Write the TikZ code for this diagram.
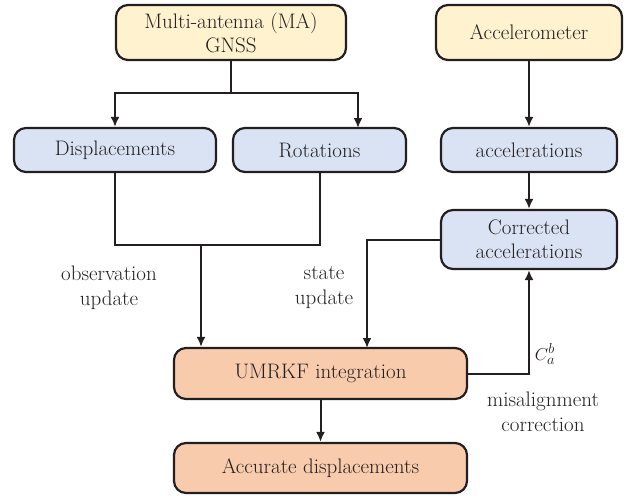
\documentclass[tikz,border=0pt]{standalone}
\usepackage{amsmath}
\usetikzlibrary{arrows.meta}
\definecolor{ink}{HTML}{231F20}
\definecolor{yel}{HTML}{FEF3CE}
\definecolor{blu}{HTML}{DAE3F3}
\definecolor{ora}{HTML}{F9CBAD}
\begin{document}
\begin{tikzpicture}[x=1pt,y=-1pt,
  box/.style={draw=ink,line width=2.2pt,rounded corners=12pt,align=center,
    inner sep=0pt,text=ink,font=\fontsize{21}{24}\selectfont},
  ybox/.style={box,fill=yel},
  bbox/.style={box,fill=blu},
  obox/.style={box,fill=ora},
  conn/.style={draw=ink,line width=2pt},
  arr/.style={conn,-{Latex[length=10pt,width=9pt]}},
  lab/.style={align=center,text=ink,inner sep=0pt,font=\fontsize{21}{25}\selectfont}]
\useasboundingbox (0,0) rectangle (633,496);
% boxes
\node[ybox,minimum width=230pt,minimum height=55pt] (gnss) at (231,32.5) {Multi-antenna (MA)\\GNSS};
\node[ybox,minimum width=186pt,minimum height=55pt] (accm) at (529,32.5) {Accelerometer};
\node[bbox,minimum width=202pt,minimum height=44pt] (disp) at (115,150) {Displacements};
\node[bbox,minimum width=173pt,minimum height=44pt] (rot) at (319.5,150) {Rotations};
\node[bbox,minimum width=176pt,minimum height=44pt] (acc) at (529,150) {accelerations};
\node[bbox,minimum width=176pt,minimum height=59pt] (corr) at (529,239.5) {Corrected\\accelerations};
\node[obox,minimum width=293pt,minimum height=51pt] (umr) at (320.5,373.5) {UMRKF integration};
\node[obox,minimum width=293pt,minimum height=50pt] (out) at (320.5,468) {Accurate displacements};
% helper coordinates
\coordinate (j1) at (231,93);
\coordinate (rotin) at (358,128);
\coordinate (m) at (201,245);
\coordinate (sin) at (367,348);
% connectors
\draw[conn] (gnss.south) -- (j1);
\draw[arr] (j1) -| (disp.north);
\draw[arr] (j1) -| (rotin);
\draw[conn] (disp.south) |- (m);
\draw[conn] (rot.south) |- (m);
\draw[arr] (m) -- (umr.north -| m);
\draw[arr] (corr.west) -| (sin);
\draw[arr] (umr.east) -| (corr.south);
\draw[arr] (umr) -- (out);
\draw[arr] (accm) -- (acc);
\draw[arr] (acc) -- (corr);
% labels
\node[lab] (lobs) at (109,288) {observation\\update};
\node[lab] (lstate) at (324,288) {state\\update};
\node[lab] (lmis) at (543,412) {misalignment\\correction};
\node[lab,font=\fontsize{19}{24}\selectfont] (lc) at (545,354) {$C^{b}_{a}$};
\end{tikzpicture}
\end{document}
